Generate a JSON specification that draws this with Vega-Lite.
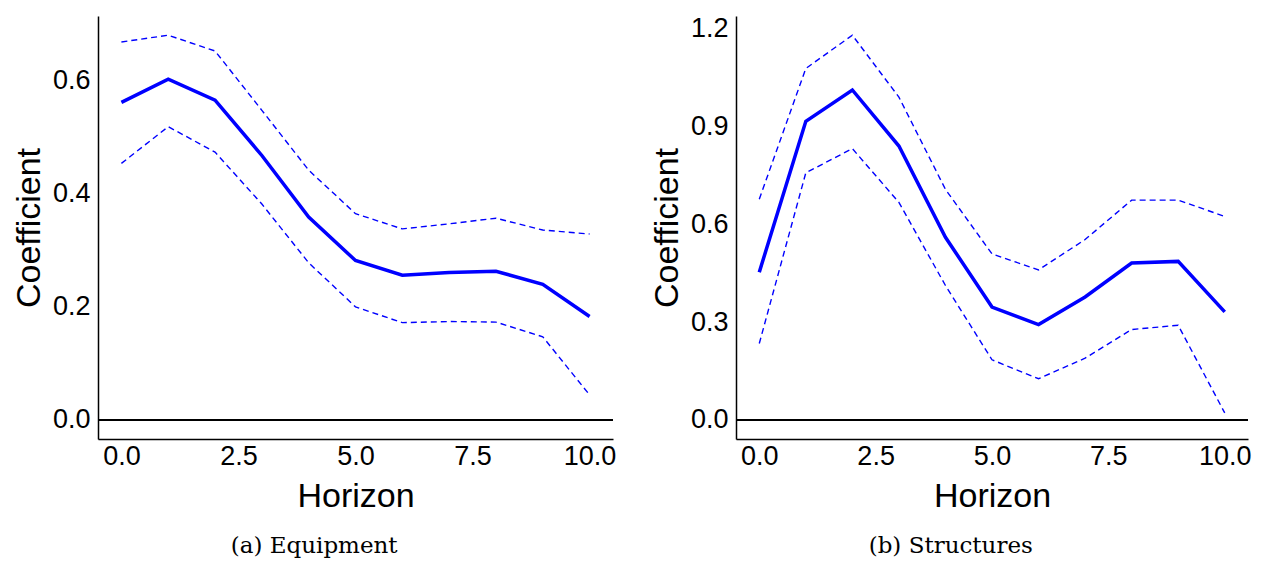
{
  "$schema": "https://vega.github.io/schema/vega-lite/v6.json",
  "background": "white",
  "padding": {"left": 12, "top": 14, "right": 12, "bottom": 0},
  "spacing": 34,
  "datasets": {
    "equip": [
      {"h": 0, "coef": 0.562, "lo": 0.454, "hi": 0.669},
      {"h": 1, "coef": 0.603, "lo": 0.519, "hi": 0.681},
      {"h": 2, "coef": 0.566, "lo": 0.474, "hi": 0.653},
      {"h": 3, "coef": 0.468, "lo": 0.382, "hi": 0.548},
      {"h": 4, "coef": 0.359, "lo": 0.278, "hi": 0.442},
      {"h": 5, "coef": 0.282, "lo": 0.200, "hi": 0.365},
      {"h": 6, "coef": 0.256, "lo": 0.172, "hi": 0.338},
      {"h": 7, "coef": 0.261, "lo": 0.174, "hi": 0.347},
      {"h": 8, "coef": 0.263, "lo": 0.173, "hi": 0.357},
      {"h": 9, "coef": 0.240, "lo": 0.147, "hi": 0.336},
      {"h": 10, "coef": 0.183, "lo": 0.044, "hi": 0.329}
    ],
    "struct": [
      {"h": 0, "coef": 0.453, "lo": 0.234, "hi": 0.677},
      {"h": 1, "coef": 0.916, "lo": 0.758, "hi": 1.078},
      {"h": 2, "coef": 1.012, "lo": 0.832, "hi": 1.180},
      {"h": 3, "coef": 0.840, "lo": 0.667, "hi": 0.990},
      {"h": 4, "coef": 0.560, "lo": 0.412, "hi": 0.707},
      {"h": 5, "coef": 0.346, "lo": 0.184, "hi": 0.509},
      {"h": 6, "coef": 0.292, "lo": 0.126, "hi": 0.460},
      {"h": 7, "coef": 0.377, "lo": 0.189, "hi": 0.553},
      {"h": 8, "coef": 0.481, "lo": 0.277, "hi": 0.674},
      {"h": 9, "coef": 0.486, "lo": 0.290, "hi": 0.674},
      {"h": 10, "coef": 0.331, "lo": 0.021, "hi": 0.624}
    ]
  },
  "hconcat": [
    {
      "width": 515,
      "height": 423,
      "title": {"text": "(a) Equipment", "orient": "bottom", "anchor": "middle", "frame": "bounds", "font": "DejaVu Serif", "fontSize": 23, "fontWeight": "normal", "color": "black", "offset": 22},
      "data": {"name": "equip"},
      "encoding": {
        "x": {"field": "h", "type": "quantitative", "title": "Horizon",
              "scale": {"domain": [-0.5, 10.5], "nice": false, "zero": false},
              "axis": {"values": [0, 2.5, 5, 7.5, 10], "format": ".1f"}}
      },
      "layer": [
        {"mark": {"type": "rule", "color": "black", "strokeWidth": 1.3},
         "encoding": {"y": {"datum": 0, "type": "quantitative"}, "x": null}},
        {"mark": {"type": "line", "color": "#0000FF", "strokeWidth": 1.4, "strokeDash": [6, 4]},
         "encoding": {"y": {"field": "hi", "type": "quantitative", "title": "Coefficient",
                            "scale": {"domain": [-0.034, 0.715], "nice": false, "zero": false},
                            "axis": {"values": [0, 0.2, 0.4, 0.6], "format": ".1f"}}}},
        {"mark": {"type": "line", "color": "#0000FF", "strokeWidth": 1.4, "strokeDash": [6, 4]},
         "encoding": {"y": {"field": "lo", "type": "quantitative"}}},
        {"mark": {"type": "line", "color": "#0000FF", "strokeWidth": 3.5},
         "encoding": {"y": {"field": "coef", "type": "quantitative"}}}
      ]
    },
    {
      "width": 512,
      "height": 423,
      "title": {"text": "(b) Structures", "orient": "bottom", "anchor": "middle", "frame": "bounds", "font": "DejaVu Serif", "fontSize": 23, "fontWeight": "normal", "color": "black", "offset": 22},
      "data": {"name": "struct"},
      "encoding": {
        "x": {"field": "h", "type": "quantitative", "title": "Horizon",
              "scale": {"domain": [-0.5, 10.5], "nice": false, "zero": false},
              "axis": {"values": [0, 2.5, 5, 7.5, 10], "format": ".1f"}}
      },
      "layer": [
        {"mark": {"type": "rule", "color": "black", "strokeWidth": 1.3},
         "encoding": {"y": {"datum": 0, "type": "quantitative"}, "x": null}},
        {"mark": {"type": "line", "color": "#0000FF", "strokeWidth": 1.4, "strokeDash": [6, 4]},
         "encoding": {"y": {"field": "hi", "type": "quantitative", "title": "Coefficient",
                            "scale": {"domain": [-0.059, 1.239], "nice": false, "zero": false},
                            "axis": {"values": [0, 0.3, 0.6, 0.9, 1.2], "format": ".1f"}}}},
        {"mark": {"type": "line", "color": "#0000FF", "strokeWidth": 1.4, "strokeDash": [6, 4]},
         "encoding": {"y": {"field": "lo", "type": "quantitative"}}},
        {"mark": {"type": "line", "color": "#0000FF", "strokeWidth": 3.5},
         "encoding": {"y": {"field": "coef", "type": "quantitative"}}}
      ]
    }
  ],
  "config": {
    "view": {"stroke": null},
    "axis": {
      "grid": false,
      "ticks": false,
      "domainColor": "black",
      "domainWidth": 1.5,
      "labelFont": "Liberation Sans",
      "labelFontSize": 27,
      "labelColor": "black",
      "labelFlush": false,
      "titleFont": "Liberation Sans",
      "titleFontSize": 34,
      "titleFontWeight": "normal",
      "titleColor": "black"
    },
    "axisX": {"labelPadding": 4, "titlePadding": 10},
    "axisY": {"labelPadding": 8, "titlePadding": 6}
  }
}
